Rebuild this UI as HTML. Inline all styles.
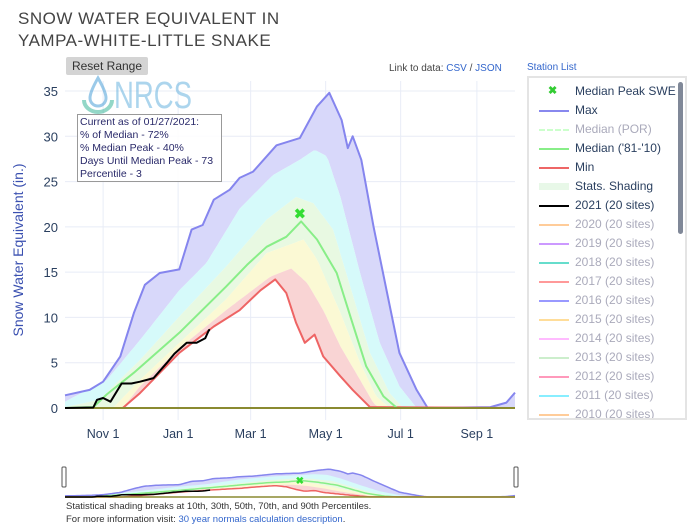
<!DOCTYPE html>
<html><head><meta charset="utf-8"><style>
body{margin:0;width:694px;height:532px;background:#fff;font-family:"Liberation Sans",sans-serif;overflow:hidden;position:relative}
.t{position:absolute}
</style></head><body>
<div class="t" style="left:18px;top:8px;font-size:17px;line-height:22px;color:#444;letter-spacing:0.5px">SNOW WATER EQUIVALENT IN<br>YAMPA-WHITE-LITTLE SNAKE</div>
<div class="t" style="left:66px;top:57px;width:82px;height:18px;background:#d4d4d4;border-radius:2px;font-size:12px;color:#333;text-align:center;line-height:18px">Reset Range</div>
<div class="t" style="left:389px;top:63px;font-size:10px;color:#444">Link to data: <span style="color:#36c">CSV</span> / <span style="color:#36c">JSON</span></div>
<div class="t" style="left:527px;top:62px;font-size:10px;color:#36c">Station List</div>
<div class="t" style="left:66px;top:500px;font-size:9.5px;line-height:13px;color:#333">Statistical shading breaks at 10th, 30th, 50th, 70th, and 90th Percentiles.<br>For more information visit: <span style="color:#36c">30 year normals calculation description</span>.</div>
<svg id="c" width="694" height="532" style="position:absolute;left:0;top:0"></svg>
<div class="t" style="left:527px;top:76px;width:160px;height:344px;border:2px solid #e4e4e4;box-sizing:border-box;overflow:hidden">
<div style="position:absolute;right:2px;top:4px;width:5px;height:152px;background:#808898;border-radius:3px"></div>
<div id="leg"></div>
</div>
<div class="t" style="left:77px;top:114px;width:145px;height:68px;border:1px solid #999;background:rgba(255,255,255,0.85);font-size:10.5px;line-height:13px;color:#2a2a6a;padding:1px 2px;box-sizing:border-box">Current as of 01/27/2021:<br>% of Median - 72%<br>% Median Peak - 40%<br>Days Until Median Peak - 73<br>Percentile - 3</div>
<script>
const maxD=[0,20,31,45,56,65,77,93,103,112,121,134,142,153,172,191,205,215,225,230,234,241,251,262,272,286,295,346,359,366];
const maxV=[1.4,2,2.9,5.7,10.5,13.6,14.9,15.3,19.7,20.2,23,24.1,25.4,26.1,29,29.8,33.3,34.8,31.8,28.7,30,27.4,20,12.7,6.1,2,0,0.1,0.6,1.7];
const p90D=[0,34,61,93,115,142,169,191,203,213,224,240,256,272,286,366];
const p90V=[0.7,3.1,7.5,13,16,22,25.7,27.4,28.5,27.8,23.3,14.9,7.2,2.4,0,0];
const p70D=[0,28,61,93,131,164,188,202,218,232,248,264,275,366];
const p70V=[0.1,0.9,5.3,10.1,15.6,20.8,23.3,22.6,19.7,13.4,6.1,1.65,0,0];
const medD=[0,23,34,56,93,131,148,164,180,192,205,221,233,245,259,270,366];
const medV=[0,0.1,1.5,3.9,8.3,13.4,15.8,17.8,18.9,20.6,18.6,14.9,9.7,4.6,1.3,0,0];
const p30D=[0,39,61,93,131,164,194,205,224,240,253,264,366];
const p30V=[0,0,3.1,7.2,12,17.1,18.6,16.4,10.5,5,1.3,0,0];
const p10D=[0,47,61,93,131,167,184,197,210,224,240,251,256,366];
const p10V=[0,0,2.4,6.6,10.8,14.5,15.4,13.8,10.8,6.8,3.1,0.5,0,0];
const minD=[0,47,61,93,121,142,159,171,180,188,195,203,210,224,234,248,366];
const minV=[0,0,1.65,6.1,9,10.8,13,14.2,12.7,9.4,7.2,8.1,5.7,3.5,2,0.1,0];
const curD=[0,23,26,31,37,46,54,61,72,83,89,99,107,114,117,118];
const curV=[0,0.05,0.9,1.1,0.7,2.7,2.7,2.9,3.3,5,6,7.2,7.2,7.7,8.6,8.6];
const peakDay=[191], peakVal=[21.5];
const yTicks=[0,5,10,15,20,25,30,35];
const xTickDays=[31,92,151,212,273,335];
const xTickLabels=["Nov 1","Jan 1","Mar 1","May 1","Jul 1","Sep 1"];
const legItems=[["Median Peak SWE","x","#3c3"],["Max","l","#8888ee"],["Median (POR)","d","#cfc"],["Median ('81-'10)","l","#88ee88"],["Min","l","#ee6666"],["Stats. Shading","s","#e8f8e8"],["2021 (20 sites)","l","#000"],["2020 (20 sites)","l","#fc9"],["2019 (20 sites)","l","#c9f"],["2018 (20 sites)","l","#6dc"],["2017 (20 sites)","l","#f99"],["2016 (20 sites)","l","#99f"],["2015 (20 sites)","l","#fd9"],["2014 (20 sites)","l","#fbf"],["2013 (20 sites)","l","#cec"],["2012 (20 sites)","l","#f9b"],["2011 (20 sites)","l","#8ef"],["2010 (20 sites)","l","#fc9"]];
const NS="http://www.w3.org/2000/svg",svg=document.getElementById('c');
const X0=65,X1=515,Y0=408,Y1=91;
const sx=d=>X0+d*(X1-X0)/366, sy=v=>Y0-v*(Y0-Y1)/35;
function mk(t,a,p){const e=document.createElementNS(NS,t);for(const k in a)e.setAttribute(k,a[k]);(p||svg).appendChild(e);return e;}
function at(D,V,d){if(d<=D[0])return V[0];for(let i=1;i<D.length;i++)if(d<=D[i]){const f=(d-D[i-1])/(D[i]-D[i-1]);return V[i-1]+f*(V[i]-V[i-1]);}return V[V.length-1];}
const grid=mk('g',{});
yTicks.forEach(v=>{mk('line',{x1:X0,x2:X1,y1:sy(v),y2:sy(v),stroke:'#e8ecf6'},grid);
const t=mk('text',{x:X0-7,y:sy(v)+5,'text-anchor':'end','font-size':13,fill:'#2a3f5f'});t.textContent=v;

});
xTickDays.forEach((d,i)=>{mk('line',{x1:sx(d),x2:sx(d),y1:Y1-10,y2:Y0+12,stroke:'#e8ecf6'},grid);
const t=mk('text',{x:sx(d),y:Y0+30,'text-anchor':'middle','font-size':12.5,fill:'#2a3f5f'});t.textContent=xTickLabels[i];

});
const yt=mk('text',{x:0,y:0,transform:'translate(23,250) rotate(-90)','text-anchor':'middle','font-size':14,fill:'#3a50b0'});yt.textContent='Snow Water Equivalent (in.)';


const lg=mk('g',{opacity:0.55});
mk('path',{d:'M98 78 Q90 92 90 98 A8 8 0 0 0 106 98 Q106 92 98 78Z',fill:'none',stroke:'#4aa0d8','stroke-width':3},lg);
mk('path',{d:'M84 100 A14 12 0 0 0 112 100',fill:'none',stroke:'#3cb89a','stroke-width':4},lg);
const lt=mk('text',{x:114,y:108,'font-size':38,fill:'#6ab4e0','textLength':78,lengthAdjust:'spacingAndGlyphs'},lg);lt.textContent='NRCS';
function path(D,V,f){return D.map((d,i)=>(i?'L':'M')+f(d).toFixed(1)+' '+sy(V[i]).toFixed(1)).join('');}
function band(D1,V1,D2,V2,col,name){let d='';for(let i=0;i<=366;i+=2)d+=(i?'L':'M')+sx(i).toFixed(1)+' '+sy(at(D1,V1,i)).toFixed(1);
for(let i=366;i>=0;i-=2)d+='L'+sx(i).toFixed(1)+' '+sy(at(D2,V2,i)).toFixed(1);
const e=mk('path',{d:d+'Z',fill:col});}
band(maxD,maxV,p90D,p90V,'#d8d8fa','band-90-max');
band(p90D,p90V,p70D,p70V,'#d6fafa','band-70-90');
band(p70D,p70V,p30D,p30V,'#e8f9e2','band-30-70');
band(p30D,p30V,p10D,p10V,'#fbf9d4','band-10-30');
band(p10D,p10V,minD,minV,'#f9d4d4','band-min-10');
function line(D,V,col,w,name){const e=mk('path',{d:path(D,V,sx),fill:'none',stroke:col,'stroke-width':w,'stroke-linejoin':'round'});}
line(maxD,maxV,'#8585ee',2,'max-line');
line(minD,minV,'#ee6464',2,'min-line');
line(medD,medV,'#88ee88',2,'median-line');
mk('line',{x1:X0,x2:X1,y1:Y0,y2:Y0,stroke:'#8a8a30','stroke-width':2});
line(curD,curV,'#000',2,'line-2021');
peakDay.forEach((d,i)=>{const t=mk('text',{x:sx(d),y:sy(peakVal[i])+5,'text-anchor':'middle','font-size':14,'font-weight':'bold',fill:'#33dd33'});t.textContent='✖';

});
// range slider
const RS0=469,RS1=497;const rs=mk('g',{});
const rsy=v=>RS1-v*(RS1-RS0)/35;
function mini(D,V,col,fill){const end=D[D.length-1];let d='';for(let i=0;i<=end;i+=2)d+=(i?'L':'M')+sx(i).toFixed(1)+' '+rsy(at(D,V,i)).toFixed(1);d+='L'+sx(end).toFixed(1)+' '+rsy(V[V.length-1]).toFixed(1);mk('path',{d:fill?d+'L'+X1+' '+RS1+'L'+X0+' '+RS1+'Z':d,fill:fill||'none',stroke:fill?'none':col,'stroke-width':1.5},rs);}
mini(maxD,maxV,'#8585ee','#d8d8fa');mini(p90D,p90V,'','#d6fafa');mini(p70D,p70V,'','#e8f9e2');mini(p30D,p30V,'','#fbf9d4');mini(p10D,p10V,'','#f9d4d4');mini(minD,minV,'','#fff');
mini(maxD,maxV,'#8585ee');mini(medD,medV,'#88ee88');mini(minD,minV,'#ee6464');
mk('line',{x1:X0,x2:X1,y1:RS1,y2:RS1,stroke:'#8a8a30','stroke-width':1.5},rs);
mini(curD,curV,'#000');
peakDay.forEach((d,i)=>{const t=mk('text',{x:sx(d),y:rsy(peakVal[i])+4,'text-anchor':'middle','font-size':10,'font-weight':'bold',fill:'#33dd33'},rs);t.textContent='✖';});
[X0-3,X1-1].forEach(x=>mk('rect',{x:x,y:467,width:4,height:20,fill:'#fff',stroke:'#555',rx:1},rs));
// legend
const leg=document.getElementById('leg');
legItems.forEach((it,i)=>{const r=document.createElement('div');


const hidden=i==2||i>6;
r.style.cssText='position:absolute;left:0;top:'+(4+i*19)+'px;height:19px;width:150px;font-size:12px;line-height:19px;color:'+(hidden?'#aab':'#2a3f5f');
let sw;if(it[1]=='x')sw='<span style="position:absolute;left:19px;color:'+it[2]+';font-weight:bold;font-size:11px">✖</span>';
else if(it[1]=='s')sw='<span style="position:absolute;left:10px;top:6px;width:30px;height:7px;background:'+it[2]+'"></span>';
else if(it[1]=='d')sw='<span style="position:absolute;left:10px;top:9px;width:30px;border-top:2px dashed '+it[2]+'"></span>';
else sw='<span style="position:absolute;left:10px;top:9px;width:30px;border-top:2px solid '+it[2]+'"></span>';
r.innerHTML=sw+'<span style="position:absolute;left:46px;white-space:nowrap">'+it[0]+'</span>';leg.appendChild(r);});
</script>
</body></html>
